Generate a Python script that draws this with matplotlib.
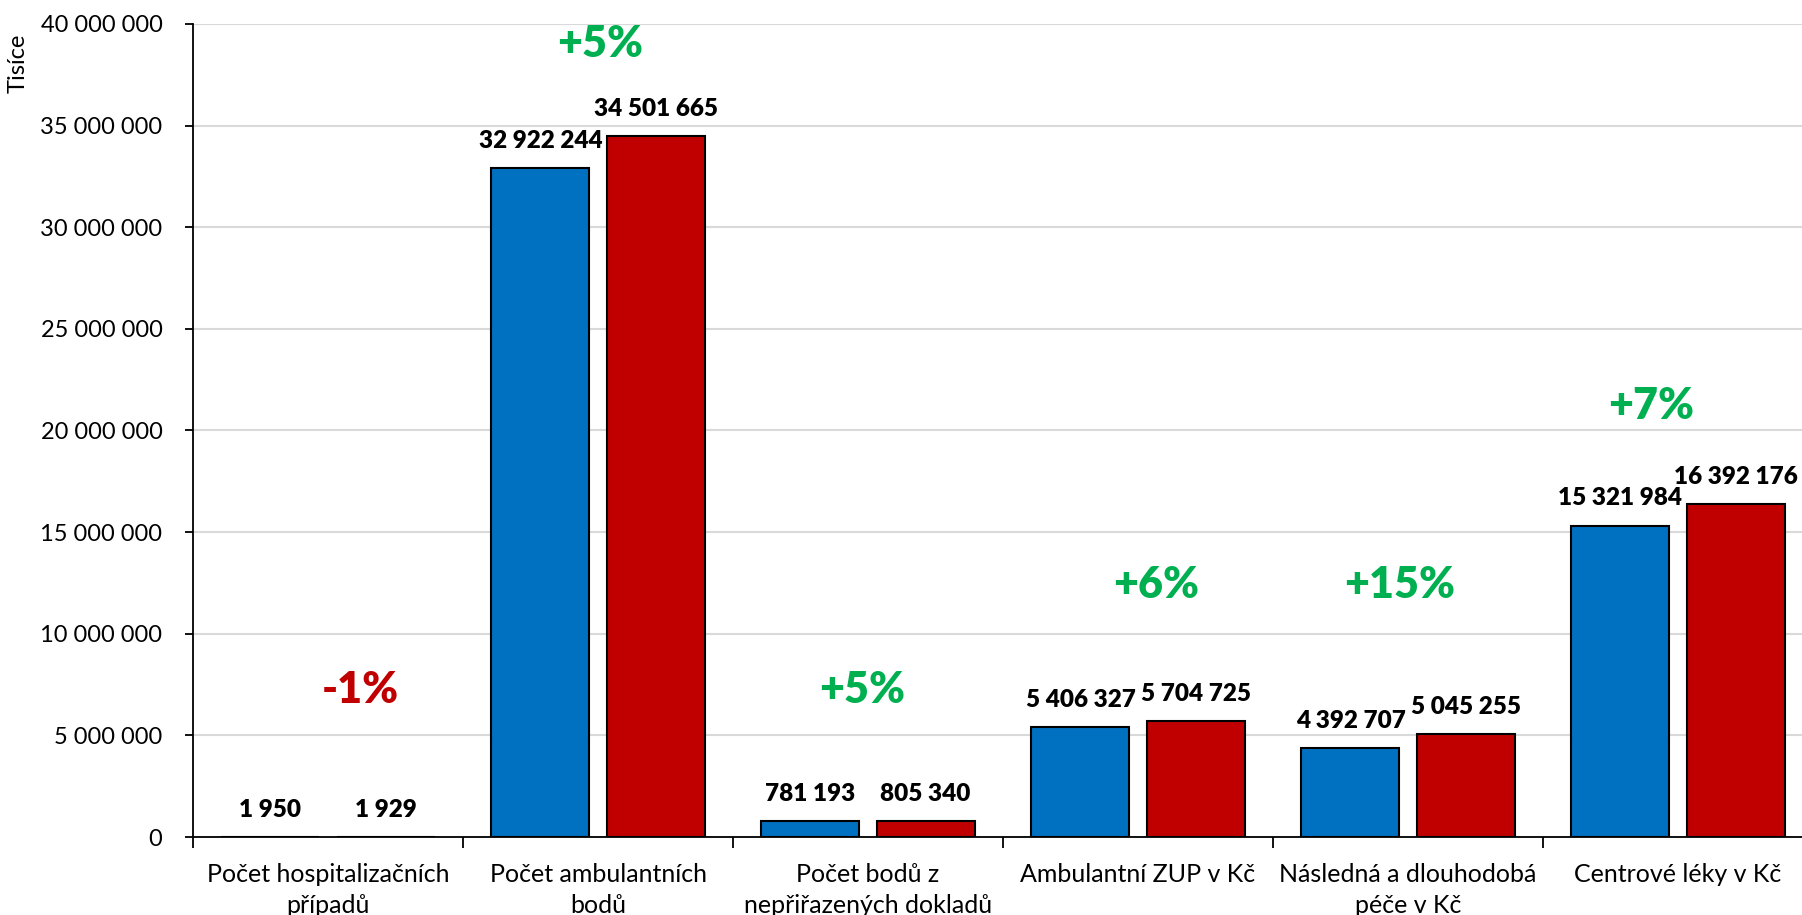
import matplotlib.pyplot as plt
from matplotlib.ticker import FuncFormatter, FixedLocator
import numpy as np

plt.rcParams['font.family'] = ['Lato', 'DejaVu Sans']

categories = ["Počet hospitalizačních\npřípadů", "Počet ambulantních\nbodů",
              "Počet bodů z\nnepřiřazených dokladů", "Ambulantní ZUP v Kč",
              "Následná a dlouhodobá\npéče v Kč", "Centrové léky v Kč"]
prev_vals = [1950, 32922244, 781193, 5406327, 4392707, 15321984]
curr_vals = [1929, 34501665, 805340, 5704725, 5045255, 16392176]
change_text = ["-1%", "+5%", "+5%", "+6%", "+15%", "+7%"]
change_up = [False, True, True, True, True, True]
# where the change labels sit (x offset from category, height in data units)
change_dx = [0.118, 0.007, -0.022, 0.067, -0.03, -0.10]
change_y = [7.23e6, 39.0e6, 7.23e6, 12.4e6, 12.4e6, 21.2e6]

blue = '#0070C0'
red = '#C00000'
green = '#00B050'

def fmt(v):
    return f"{int(v):,}".replace(",", " ")

fig = plt.figure(figsize=(18.02, 9.15), dpi=100)
ax = fig.add_axes([193/1802, 78/915, 1620/1802, 813/915])

x = np.arange(len(categories))
w = 0.363
off = 0.213
b1 = ax.bar(x - off, prev_vals, w, color=blue, edgecolor='black', linewidth=1.5, zorder=3)
b2 = ax.bar(x + off, curr_vals, w, color=red, edgecolor='black', linewidth=1.5, zorder=3)

for bars, vals in ((b1, prev_vals), (b2, curr_vals)):
    for rect, v in zip(bars, vals):
        ax.annotate(fmt(v), (rect.get_x() + rect.get_width()/2, v),
                    xytext=(0, 19.5), textcoords='offset points',
                    ha='center', va='center', fontsize=17.5, fontweight='heavy',
                    zorder=4)

for i in range(len(categories)):
    ax.text(x[i] + change_dx[i], change_y[i], change_text[i],
            ha='center', va='center', fontsize=31, fontweight='heavy',
            color=green if change_up[i] else red, zorder=4)

ax.set_xlim(-0.5, len(categories) - 0.5)
ax.set_ylim(0, 40e6)
ax.set_yticks(np.arange(0, 40e6 + 1, 5e6))
ax.yaxis.set_major_formatter(FuncFormatter(lambda v, p: fmt(v)))
ax.grid(axis='y', color='#D9D9D9', linewidth=1.5, zorder=0)
ax.set_axisbelow(True)

ax.xaxis.set_major_locator(FixedLocator(np.arange(-0.5, len(categories), 1.0)))
ax.xaxis.set_minor_locator(FixedLocator(x))
ax.set_xticklabels([])
ax.set_xticklabels(categories, minor=True, fontsize=18, linespacing=1.4)
ax.tick_params(axis='x', which='major', length=8, width=1.3, direction='out')
ax.tick_params(axis='x', which='minor', length=0, pad=19)
ax.tick_params(axis='y', length=6, width=1.3, direction='out', pad=16, labelsize=17)

for s in ('top', 'right'):
    ax.spines[s].set_visible(False)
for s in ('left', 'bottom'):
    ax.spines[s].set_linewidth(1.3)

fig.text(18/1802, 1 - 63/915, "Tisíce", rotation=90, ha='center', va='center', fontsize=17)

fig.savefig('out.png', dpi=100)
